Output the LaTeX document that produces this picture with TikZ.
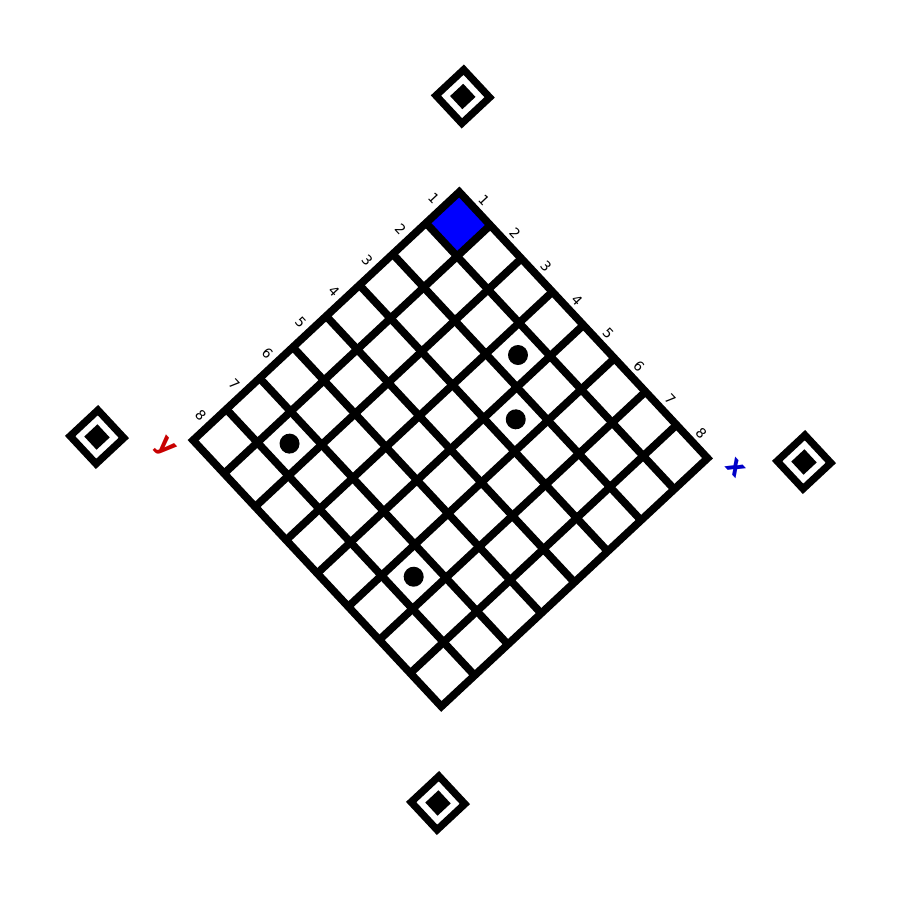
\documentclass[tikz,border=0pt]{standalone}
\usepackage{fontspec}
\setmainfont{DejaVu Sans}
\definecolor{xblue}{RGB}{0,0,200}
\definecolor{yred}{RGB}{200,0,0}
\begin{document}
\begin{tikzpicture}[
  gridline/.style={line width=0.077cm, black},
  markerline/.style={line width=0.073cm, black},
  numlabel/.style={inner sep=0pt, rotate=-47, font=\fontsize{3.9}{4}\selectfont},
  axlabel/.style={inner sep=0pt, rotate=-47, font=\fontsize{7.6}{8}\selectfont\bfseries},
  piece/.style={fill=black}
]
\useasboundingbox (0,0) rectangle (9,9);
\def\s{0.455}
\begin{scope}[shift={(4.593,7.08)}, rotate=-47]
  \fill[blue] (0,0) rectangle (\s,-\s);
  \foreach \i in {1,...,7} {
    \draw[gridline] (\i*\s,0) -- (\i*\s,-8*\s);
    \draw[gridline] (0,-\i*\s) -- (8*\s,-\i*\s);
  }
  \draw[gridline] (0,0) rectangle (8*\s,-8*\s);
  \foreach \p/\q in {4/2,5/3,2/7,6/7}
    \fill[piece] ({(\p-0.5)*\s},{-(\q-0.5)*\s}) circle (0.1);
  \foreach \i in {1,...,8} {
    \node[numlabel] (xl\i) at ({(\i-0.5)*\s},0.125) {\i};
    \node[numlabel] (yl\i) at (-0.13,{-(\i-0.5)*\s}) {\i};
  }
  \node[axlabel, text=xblue] (xax) at (3.9,0.14) {x};
  \node[axlabel, text=yred] (yax) at (-0.14,-3.9) {y};
\end{scope}
\foreach \mx/\my in {4.628/8.035, 0.97/4.63, 8.04/4.38, 4.38/0.97} {
  \begin{scope}[shift={(\mx,\my)}, rotate=-47]
    \draw[markerline] (-0.19,-0.19) rectangle (0.19,0.19);
    \fill (-0.09,-0.09) rectangle (0.09,0.09);
  \end{scope}
}
\end{tikzpicture}
\end{document}
